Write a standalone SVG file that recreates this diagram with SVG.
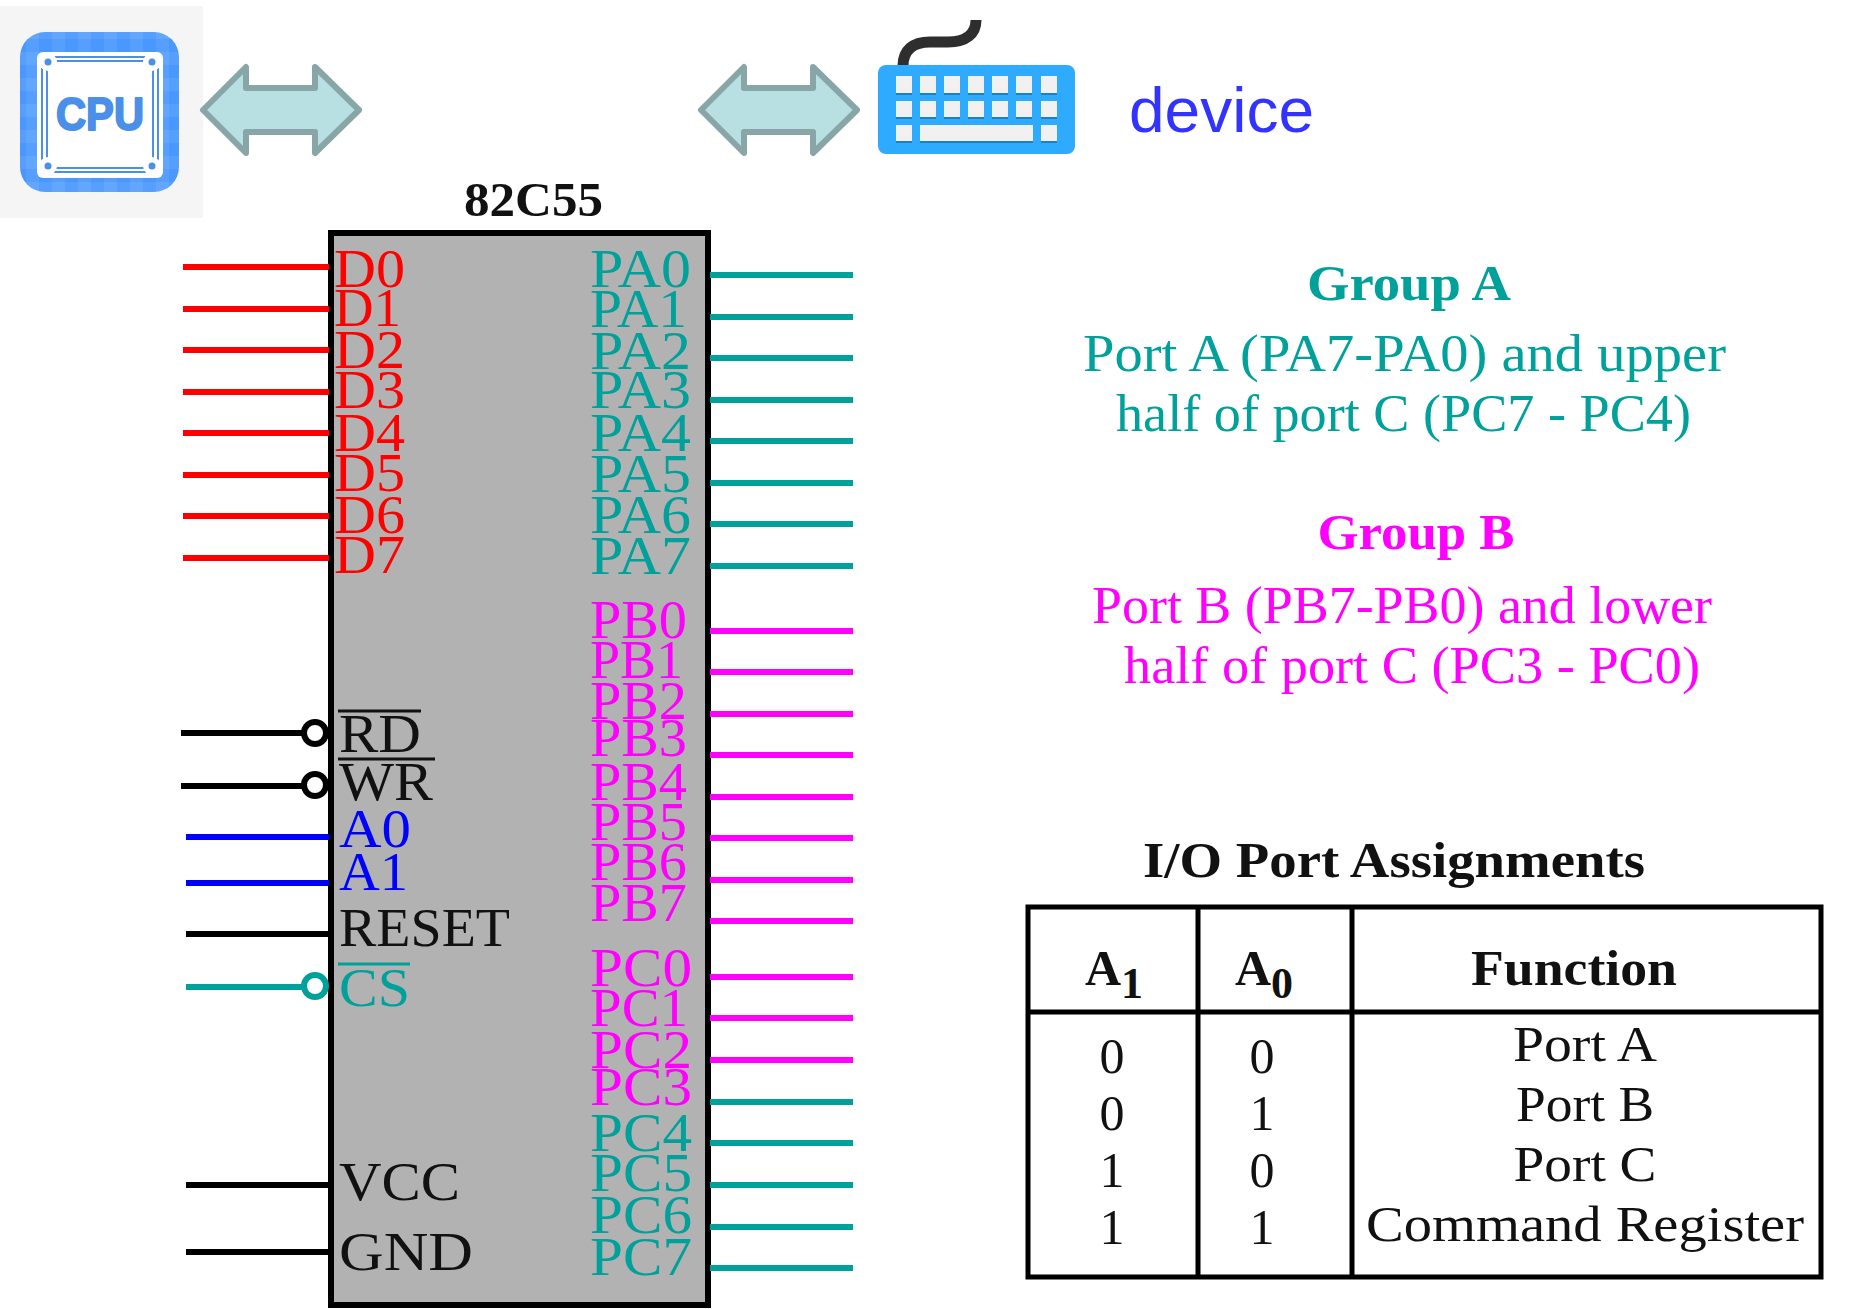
<svg xmlns="http://www.w3.org/2000/svg" width="1850" height="1309" viewBox="0 0 1850 1309">
<style>
.s{font-family:"Liberation Serif","Times New Roman",serif}
.pin{font-size:54px}
.red{fill:#f00}.teal{fill:#00a19a}.mag{fill:#f0f}.blk{fill:#111}.blu{fill:#00f}
.b{font-weight:bold}
.cell{font-size:50px;fill:#111}
.ln{stroke-width:6;fill:none}
.r{stroke:#f00}.t{stroke:#00a19a}.m{stroke:#f0f}.k{stroke:#000}.u{stroke:#00f}
.bub{fill:#fff;stroke-width:6}
.grid{fill:none;stroke:#000;stroke-width:5}
.key{fill:#f1f1f1}.keyb{fill:#1b7fc9}
.arrow{fill:#b8dfe2;stroke:#88a5a8;stroke-width:6;stroke-linejoin:round}
</style>
<defs>
<pattern id="weave" width="26" height="26" patternUnits="userSpaceOnUse">
<rect width="26" height="26" fill="#4a98ff"/>
<rect width="13" height="26" fill="#fff" opacity=".07"/>
<rect width="26" height="13" fill="#fff" opacity=".07"/>
</pattern>
<path id="dbl" class="arrow" d="M1 44 L44 1 V22 H113 V1 L157 44 L113 87 V66 H44 V87 Z"/>
</defs>

<g id="cpu-icon">
<rect x="0" y="6" width="203" height="212" fill="#f5f5f5"/>
<rect x="20" y="32" width="159" height="160" rx="25" fill="url(#weave)"/>
<rect x="37" y="52" width="126" height="126" rx="6" fill="#fff"/>
<g stroke="#4a90e8" stroke-width="2" fill="none">
<path d="M53 57H147M55 61H145M53 172H147M55 168H145M42 68V162M47 70V160M158 68V162M153 70V160"/>
</g>
<g fill="#fff"><circle cx="48" cy="62" r="9"/><circle cx="152" cy="62" r="9"/><circle cx="48" cy="166" r="9"/><circle cx="152" cy="166" r="9"/></g>
<g fill="#4a90e8"><circle cx="48" cy="62" r="3.5"/><circle cx="152" cy="62" r="3.5"/><circle cx="48" cy="166" r="3.5"/><circle cx="152" cy="166" r="3.5"/></g>
<text x="100" y="130" text-anchor="middle" font-family="Liberation Sans,Arial,sans-serif" font-weight="bold" font-size="47" fill="#4a90e8" stroke="#4a90e8" stroke-width="2" stroke-linejoin="round" textLength="88" lengthAdjust="spacingAndGlyphs">CPU</text>
</g>

<g id="link-cpu"><use href="#dbl" x="202" y="66"/></g>
<g id="link-device"><use href="#dbl" x="700" y="66"/></g>

<g id="keyboard-icon">
<path d="M903 66C903 50 913 42 930 42H948C966 42 976 34 976 20" fill="none" stroke="#2e2e2e" stroke-width="11"/>
<rect x="878" y="65" width="197" height="89" rx="8" fill="#2eaaff"/>
<g class="keyb">
<rect x="896" y="78" width="16" height="17"/><rect x="920" y="78" width="16" height="17"/><rect x="944" y="78" width="16" height="17"/><rect x="968" y="78" width="16" height="17"/><rect x="992" y="78" width="16" height="17"/><rect x="1016" y="78" width="16" height="17"/><rect x="1041" y="78" width="16" height="17"/>
<rect x="896" y="103" width="16" height="16"/><rect x="920" y="103" width="16" height="16"/><rect x="944" y="103" width="16" height="16"/><rect x="968" y="103" width="16" height="16"/><rect x="992" y="103" width="16" height="16"/><rect x="1016" y="103" width="16" height="16"/><rect x="1041" y="103" width="16" height="16"/>
<rect x="896" y="127" width="16" height="16"/><rect x="920" y="127" width="113" height="16"/><rect x="1041" y="127" width="16" height="16"/>
</g>
<g class="key">
<rect x="896" y="76" width="16" height="17"/><rect x="920" y="76" width="16" height="17"/><rect x="944" y="76" width="16" height="17"/><rect x="968" y="76" width="16" height="17"/><rect x="992" y="76" width="16" height="17"/><rect x="1016" y="76" width="16" height="17"/><rect x="1041" y="76" width="16" height="17"/>
<rect x="896" y="101" width="16" height="16"/><rect x="920" y="101" width="16" height="16"/><rect x="944" y="101" width="16" height="16"/><rect x="968" y="101" width="16" height="16"/><rect x="992" y="101" width="16" height="16"/><rect x="1016" y="101" width="16" height="16"/><rect x="1041" y="101" width="16" height="16"/>
<rect x="896" y="125" width="16" height="16"/><rect x="920" y="125" width="113" height="16"/><rect x="1041" y="125" width="16" height="16"/>
</g>
</g>

<g id="device-label">
<text x="1129" y="132" font-family="Liberation Sans,Arial,sans-serif" font-size="63" fill="#3333ff" textLength="185" lengthAdjust="spacingAndGlyphs">device</text>
</g>

<g id="chip-82C55">
<text class="s b" x="464" y="216" font-size="48" fill="#111" textLength="139" lengthAdjust="spacingAndGlyphs">82C55</text>
<rect x="331" y="233" width="377" height="1072" fill="#b2b2b2" stroke="#000" stroke-width="6"/>
<g class="s pin red">
<text x="334" y="287" textLength="71" lengthAdjust="spacingAndGlyphs">D0</text>
<text x="334" y="326" textLength="67" lengthAdjust="spacingAndGlyphs">D1</text>
<text x="334" y="368" textLength="71" lengthAdjust="spacingAndGlyphs">D2</text>
<text x="334" y="408" textLength="71" lengthAdjust="spacingAndGlyphs">D3</text>
<text x="334" y="451" textLength="71" lengthAdjust="spacingAndGlyphs">D4</text>
<text x="334" y="491" textLength="71" lengthAdjust="spacingAndGlyphs">D5</text>
<text x="334" y="533" textLength="71" lengthAdjust="spacingAndGlyphs">D6</text>
<text x="334" y="573" textLength="71" lengthAdjust="spacingAndGlyphs">D7</text>
</g>
<g class="s pin teal">
<text x="590" y="287" textLength="101" lengthAdjust="spacingAndGlyphs">PA0</text>
<text x="590" y="327" textLength="97" lengthAdjust="spacingAndGlyphs">PA1</text>
<text x="590" y="369" textLength="101" lengthAdjust="spacingAndGlyphs">PA2</text>
<text x="590" y="408" textLength="101" lengthAdjust="spacingAndGlyphs">PA3</text>
<text x="590" y="451" textLength="101" lengthAdjust="spacingAndGlyphs">PA4</text>
<text x="590" y="492" textLength="101" lengthAdjust="spacingAndGlyphs">PA5</text>
<text x="590" y="533" textLength="101" lengthAdjust="spacingAndGlyphs">PA6</text>
<text x="590" y="574" textLength="101" lengthAdjust="spacingAndGlyphs">PA7</text>
</g>
<g class="s pin mag">
<text x="590" y="638" textLength="97" lengthAdjust="spacingAndGlyphs">PB0</text>
<text x="590" y="678" textLength="93" lengthAdjust="spacingAndGlyphs">PB1</text>
<text x="590" y="719" textLength="97" lengthAdjust="spacingAndGlyphs">PB2</text>
<text x="590" y="756" textLength="97" lengthAdjust="spacingAndGlyphs">PB3</text>
<text x="590" y="800" textLength="97" lengthAdjust="spacingAndGlyphs">PB4</text>
<text x="590" y="840" textLength="97" lengthAdjust="spacingAndGlyphs">PB5</text>
<text x="590" y="880" textLength="97" lengthAdjust="spacingAndGlyphs">PB6</text>
<text x="590" y="921" textLength="97" lengthAdjust="spacingAndGlyphs">PB7</text>
<text x="590" y="986" textLength="102" lengthAdjust="spacingAndGlyphs">PC0</text>
<text x="590" y="1026" textLength="98" lengthAdjust="spacingAndGlyphs">PC1</text>
<text x="590" y="1068" textLength="102" lengthAdjust="spacingAndGlyphs">PC2</text>
<text x="590" y="1105" textLength="102" lengthAdjust="spacingAndGlyphs">PC3</text>
</g>
<g class="s pin teal">
<text x="590" y="1151" textLength="102" lengthAdjust="spacingAndGlyphs">PC4</text>
<text x="590" y="1191" textLength="102" lengthAdjust="spacingAndGlyphs">PC5</text>
<text x="590" y="1233" textLength="102" lengthAdjust="spacingAndGlyphs">PC6</text>
<text x="590" y="1275" textLength="102" lengthAdjust="spacingAndGlyphs">PC7</text>
</g>
<g class="s pin">
<text class="blk" x="339" y="752" textLength="82" lengthAdjust="spacingAndGlyphs">RD</text>
<text class="blk" x="339" y="800" textLength="94" lengthAdjust="spacingAndGlyphs">WR</text>
<text class="blu" x="339" y="847" textLength="72" lengthAdjust="spacingAndGlyphs">A0</text>
<text class="blu" x="339" y="890" textLength="69" lengthAdjust="spacingAndGlyphs">A1</text>
<text class="blk" x="339" y="946" textLength="171" lengthAdjust="spacingAndGlyphs">RESET</text>
<text class="teal" x="339" y="1006" textLength="71" lengthAdjust="spacingAndGlyphs">CS</text>
<text class="blk" x="339" y="1200" textLength="121" lengthAdjust="spacingAndGlyphs">VCC</text>
<text class="blk" x="339" y="1270" textLength="134" lengthAdjust="spacingAndGlyphs">GND</text>
</g>
<path d="M338 711H421M338 759H435" stroke="#111" stroke-width="3" fill="none"/>
<path d="M338 964H410" stroke="#00a19a" stroke-width="3" fill="none"/>
</g>

<g id="connectors">
<path class="ln r" d="M183 267H329M183 309H329M183 350H329M183 392H329M183 433H329M183 475H329M183 516H329M183 558H329"/>
<path class="ln t" d="M710 275H853M710 317H853M710 358H853M710 400H853M710 441H853M710 483H853M710 524H853M710 566H853"/>
<path class="ln m" d="M710 631H853M710 672H853M710 714H853M710 755H853M710 797H853M710 838H853M710 880H853M710 921H853M710 977H853M710 1018H853M710 1060H853"/>
<path class="ln t" d="M710 1102H853M710 1143H853M710 1185H853M710 1227H853M710 1268H853"/>
<path class="ln k" d="M181 733H304M181 786H304M186 934H329M186 1185H329M186 1252H329"/>
<path class="ln u" d="M186 837H329M186 883H329"/>
<path class="ln t" d="M186 987H304"/>
<circle class="bub k" cx="315" cy="733" r="11"/>
<circle class="bub k" cx="315" cy="785" r="11"/>
<circle class="bub t" cx="315" cy="986" r="11"/>
</g>

<g id="group-a">
<text class="s b teal" x="1409" y="300" text-anchor="middle" font-size="50" textLength="204" lengthAdjust="spacingAndGlyphs">Group A</text>
<text class="s teal" x="1083" y="371" font-size="52" textLength="643" lengthAdjust="spacingAndGlyphs">Port A (PA7-PA0) and upper</text>
<text class="s teal" x="1116" y="431" font-size="52" textLength="575" lengthAdjust="spacingAndGlyphs">half of port C (PC7 - PC4)</text>
</g>
<g id="group-b">
<text class="s b mag" x="1416" y="549" text-anchor="middle" font-size="50" textLength="197" lengthAdjust="spacingAndGlyphs">Group B</text>
<text class="s mag" x="1092" y="623" font-size="52" textLength="620" lengthAdjust="spacingAndGlyphs">Port B (PB7-PB0) and lower</text>
<text class="s mag" x="1124" y="683" font-size="52" textLength="576" lengthAdjust="spacingAndGlyphs">half of port C (PC3 - PC0)</text>
</g>

<g id="port-table">
<text class="s b" x="1143" y="877" font-size="50" fill="#111" textLength="502" lengthAdjust="spacingAndGlyphs">I/O Port Assignments</text>
<rect class="grid" x="1028" y="907" width="793" height="370"/>
<path class="grid" d="M1198 907V1277M1352 907V1277M1028 1012H1821"/>
<text class="s b cell" x="1085" y="985">A<tspan font-size="44" dy="13">1</tspan></text>
<text class="s b cell" x="1235" y="985">A<tspan font-size="44" dy="13">0</tspan></text>
<text class="s b cell" x="1471" y="985" textLength="206" lengthAdjust="spacingAndGlyphs">Function</text>
<g class="s cell" text-anchor="middle">
<text x="1112" y="1073">0</text><text x="1112" y="1130">0</text><text x="1112" y="1187">1</text><text x="1112" y="1244">1</text>
<text x="1262" y="1073">0</text><text x="1262" y="1130">1</text><text x="1262" y="1187">0</text><text x="1262" y="1244">1</text>
<text x="1585" y="1061" textLength="144" lengthAdjust="spacingAndGlyphs">Port A</text>
<text x="1585" y="1121" textLength="138" lengthAdjust="spacingAndGlyphs">Port B</text>
<text x="1585" y="1181" textLength="143" lengthAdjust="spacingAndGlyphs">Port C</text>
<text x="1585" y="1241" textLength="438" lengthAdjust="spacingAndGlyphs">Command Register</text>
</g>
</g>
</svg>
